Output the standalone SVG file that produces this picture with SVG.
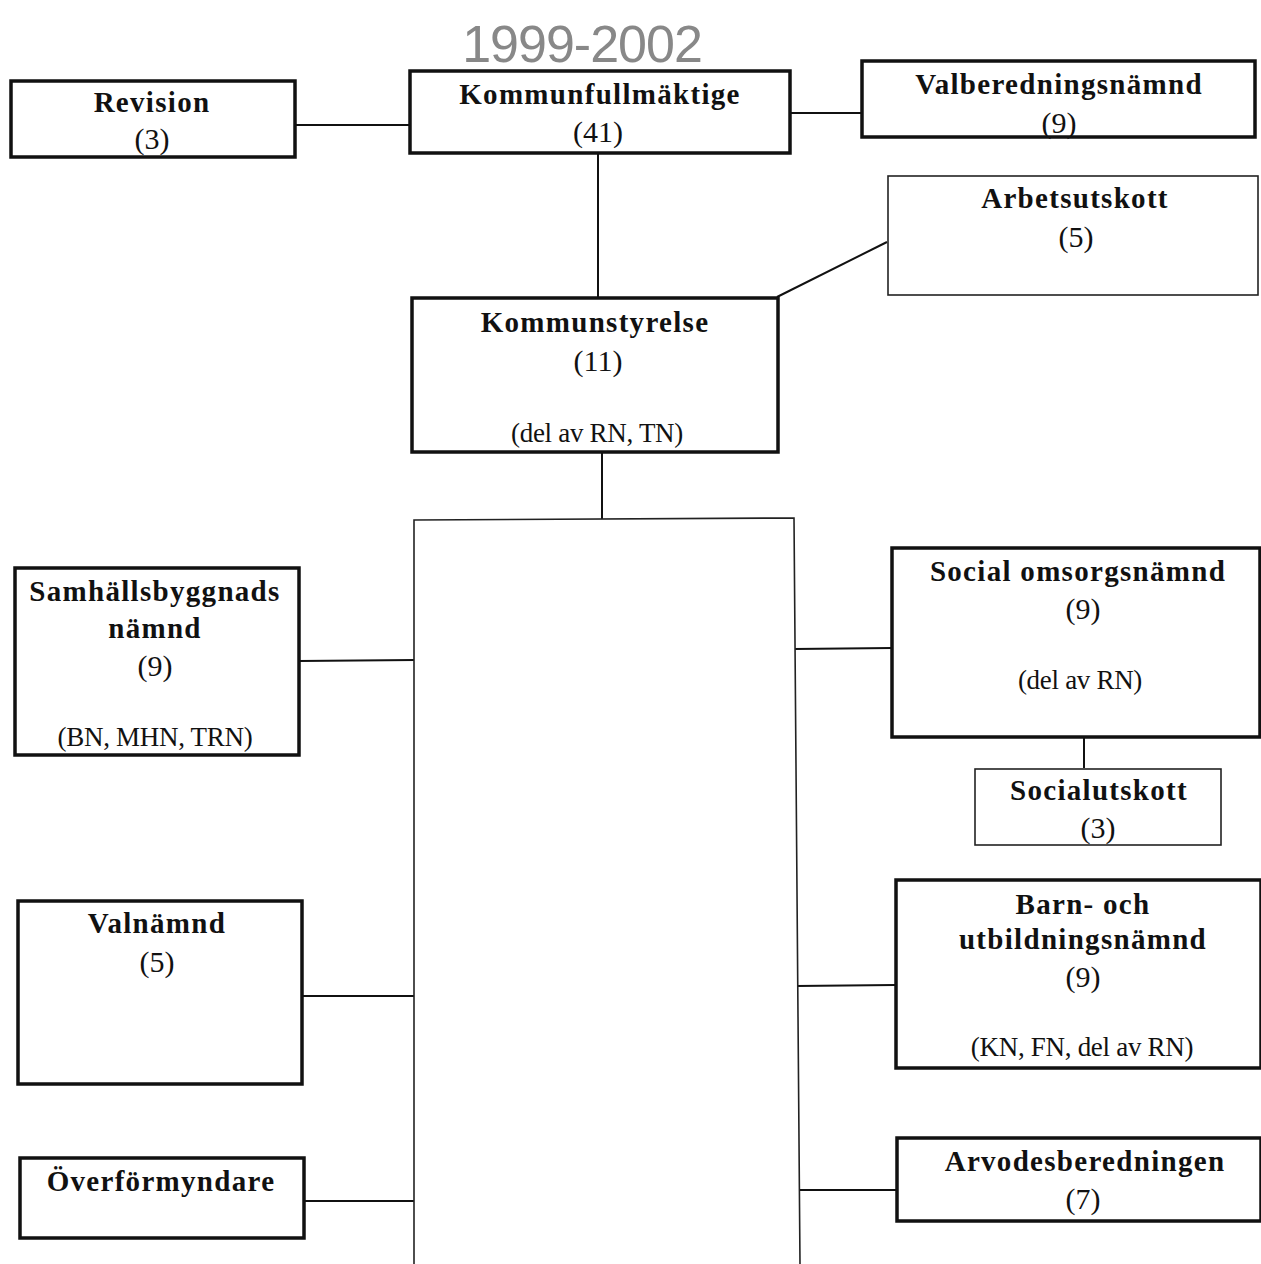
<svg xmlns="http://www.w3.org/2000/svg" width="1261" height="1264" viewBox="0 0 1261 1264">
<style>
.box{fill:#fff;stroke:#111;stroke-width:3.5}
.thin{fill:#fff;stroke:#222;stroke-width:1.6}
.t{font-family:"Liberation Serif",serif;font-weight:bold;font-size:29px;letter-spacing:1.3px;fill:#111;text-anchor:middle}
.n{font-family:"Liberation Serif",serif;font-size:30px;fill:#111;text-anchor:middle}
.s{font-family:"Liberation Serif",serif;font-size:27px;fill:#111;text-anchor:middle;letter-spacing:-0.3px}
.c{stroke:#111;stroke-width:2;fill:none}
</style>
<rect width="1261" height="1264" fill="#fff"/>
<text x="582" y="62" font-family="Liberation Sans,sans-serif" font-size="52" fill="#888" text-anchor="middle" letter-spacing="-1">1999-2002</text>
<g id="connectors">
<line class="c" x1="295" y1="125" x2="410" y2="125"/>
<line class="c" x1="790" y1="113" x2="862" y2="113"/>
<line class="c" x1="598" y1="153" x2="598" y2="298"/>
<line class="c" x1="777" y1="297" x2="887" y2="242"/>
<line class="c" x1="602" y1="452" x2="602" y2="520"/>
<line class="c" x1="299" y1="661" x2="415" y2="660"/>
<line class="c" x1="794" y1="649" x2="892" y2="648"/>
<line class="c" x1="1084" y1="737" x2="1084" y2="768"/>
<line class="c" x1="302" y1="996" x2="418" y2="996"/>
<line class="c" x1="796" y1="986" x2="895" y2="985"/>
<line class="c" x1="304" y1="1201" x2="421" y2="1201"/>
<line class="c" x1="800" y1="1190" x2="897" y2="1190"/>
</g>
<g id="container">
<path class="thin" d="M414,1264 L414,520 L794,518 L800,1264" stroke-width="2"/>
</g>
<g id="revision">
<rect class="box" x="11" y="81" width="284" height="76"/>
<text class="t" x="152" y="112">Revision</text>
<text class="n" x="152" y="149">(3)</text>
</g>
<g id="kommunfullmaktige">
<rect class="box" x="410" y="71" width="380" height="82"/>
<text class="t" x="600" y="104">Kommunfullmäktige</text>
<text class="n" x="598" y="142">(41)</text>
</g>
<g id="valberedningsnamnd">
<rect class="box" x="862" y="61" width="393" height="76"/>
<text class="t" x="1059" y="94">Valberedningsnämnd</text>
<text class="n" x="1059" y="133">(9)</text>
</g>
<g id="arbetsutskott">
<rect class="thin" x="888" y="176" width="370" height="119"/>
<text class="t" x="1075" y="208">Arbetsutskott</text>
<text class="n" x="1076" y="247">(5)</text>
</g>
<g id="kommunstyrelse">
<rect class="box" x="412" y="298" width="366" height="154"/>
<text class="t" x="595" y="332">Kommunstyrelse</text>
<text class="n" x="598" y="371">(11)</text>
<text class="s" x="597" y="442">(del av RN, TN)</text>
</g>
<g id="samhallsbyggnadsnamnd">
<rect class="box" x="15" y="568" width="284" height="187"/>
<text class="t" x="155" y="601">Samhällsbyggnads</text>
<text class="t" x="155" y="638">nämnd</text>
<text class="n" x="155" y="676">(9)</text>
<text class="s" x="155" y="746">(BN, MHN, TRN)</text>
</g>
<g id="social-omsorgsnamnd">
<rect class="box" x="892" y="548" width="368" height="189"/>
<text class="t" x="1078" y="581">Social omsorgsnämnd</text>
<text class="n" x="1083" y="619">(9)</text>
<text class="s" x="1080" y="689">(del av RN)</text>
</g>
<g id="socialutskott">
<rect class="thin" x="975" y="769" width="246" height="76"/>
<text class="t" x="1099" y="800">Socialutskott</text>
<text class="n" x="1098" y="838">(3)</text>
</g>
<g id="valnamnd">
<rect class="box" x="18" y="901" width="284" height="183"/>
<text class="t" x="157" y="933">Valnämnd</text>
<text class="n" x="157" y="972">(5)</text>
</g>
<g id="barn-utbildningsnamnd">
<rect class="box" x="896" y="880" width="365" height="188"/>
<text class="t" x="1083" y="914">Barn- och</text>
<text class="t" x="1083" y="949">utbildningsnämnd</text>
<text class="n" x="1083" y="987">(9)</text>
<text class="s" x="1082" y="1056">(KN, FN, del av RN)</text>
</g>
<g id="overformyndare">
<rect class="box" x="20" y="1158" width="284" height="80"/>
<text class="t" x="161" y="1191">Överförmyndare</text>
</g>
<g id="arvodesberedningen">
<rect class="box" x="897" y="1138" width="364" height="83"/>
<text class="t" x="1085" y="1171">Arvodesberedningen</text>
<text class="n" x="1083" y="1209">(7)</text>
</g>
</svg>
